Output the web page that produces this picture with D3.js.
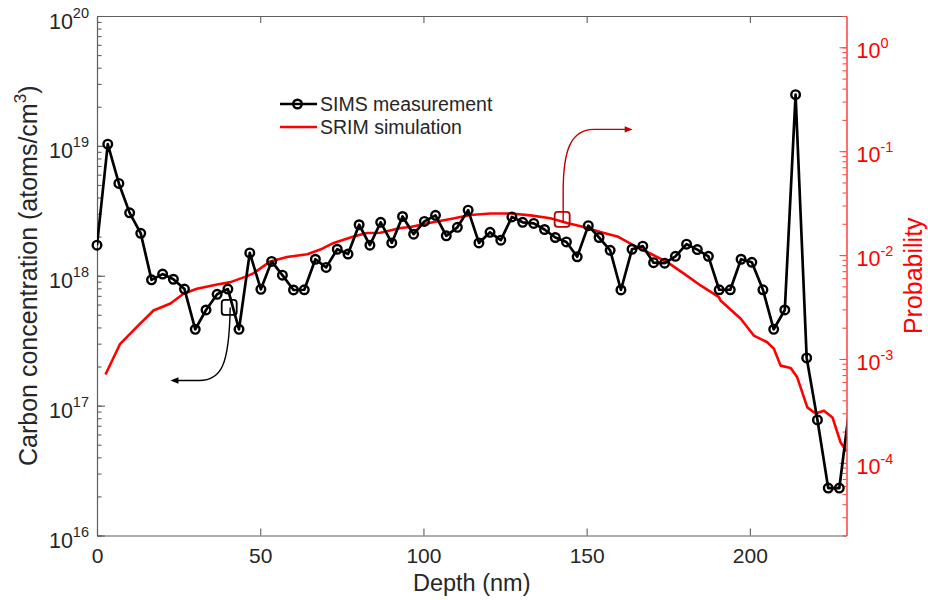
<!DOCTYPE html>
<html>
<head>
<meta charset="utf-8">
<script src="https://cdn.jsdelivr.net/npm/d3@7/dist/d3.min.js"></script>
<style>
  body { margin: 0; background: #fff; }
  svg { display: block; font-family: "Liberation Sans", Arial, Helvetica, sans-serif; }
</style>
</head>
<body>
<svg id="chart" width="928" height="600"></svg>
<script>
// ── data ───────────────────────────────────────────────────
const simsDepth = [0, 3.3, 6.7, 10.0, 13.4, 16.7, 20.1, 23.4, 26.8, 30.1,
  33.4, 36.8, 40.1, 43.5, 46.8, 50.2, 53.5, 56.8, 60.2, 63.5,
  66.9, 70.2, 73.6, 76.9, 80.3, 83.6, 86.9, 90.3, 93.6, 97.0,
  100.3, 103.7, 107.0, 110.4, 113.7, 117.0, 120.4, 123.7, 127.1, 130.4,
  133.8, 137.1, 140.4, 143.8, 147.1, 150.5, 153.8, 157.2, 160.5, 163.9,
  167.2, 170.5, 173.9, 177.2, 180.6, 183.9, 187.3, 190.6, 194.0, 197.3,
  200.6, 204.0, 207.3, 210.7, 214.0, 217.4, 220.7, 224.0, 227.4, 230.7];
const simsConc = [1.72e18, 1.03e19, 5.14e18, 3.05e18, 2.12e18, 9.3e17, 1.03e18, 9.4e17, 7.9e17, 3.87e17,
  5.45e17, 7.2e17, 7.9e17, 3.87e17, 1.5e18, 7.86e17, 1.29e18, 1.01e18, 7.77e17, 7.8e17,
  1.34e18, 1.16e18, 1.6e18, 1.47e18, 2.47e18, 1.72e18, 2.58e18, 1.79e18, 2.86e18, 2.09e18,
  2.62e18, 2.92e18, 2.03e18, 2.36e18, 3.2e18, 1.79e18, 2.16e18, 1.88e18, 2.84e18, 2.58e18,
  2.53e18, 2.27e18, 1.97e18, 1.82e18, 1.4e18, 2.43e18, 1.97e18, 1.57e18, 7.77e17, 1.6e18,
  1.69e18, 1.26e18, 1.25e18, 1.41e18, 1.75e18, 1.59e18, 1.41e18, 7.8e17, 7.8e17, 1.34e18,
  1.27e18, 7.8e17, 3.87e17, 5.45e17, 2.48e19, 2.33e17, 7.76e16, 2.32e16, 2.32e16, 1.05e17];

const srimDepth = [2.6, 7.1, 12.3, 17.3, 22.5, 26.5, 30.6, 36.8, 40.9, 46.0,
  48.0, 53.1, 58.2, 64.4, 68.4, 72.5, 78.6, 82.7, 86.8, 93.0,
  96.0, 102.1, 108.3, 114.4, 120.5, 126.7, 132.8, 138.9, 144.0, 149.1,
  154.2, 159.4, 164.4, 169.6, 174.7, 179.8, 184.9, 190.5, 191.0, 197.2,
  201.2, 205.3, 207.4, 209.4, 212.5, 214.5, 217.6, 220.1, 222.7, 225.3,
  227.8, 229.6];
const srimProb = [7.08e-4, 1.40e-3, 2.05e-3, 2.93e-3, 3.42e-3, 4.25e-3, 4.74e-3, 5.22e-3, 5.49e-3, 6.27e-3,
  6.70e-3, 8.69e-3, 9.57e-3, 1.02e-2, 1.13e-2, 1.31e-2, 1.51e-2, 1.63e-2, 1.64e-2, 1.82e-2,
  1.86e-2, 2.05e-2, 2.22e-2, 2.43e-2, 2.51e-2, 2.51e-2, 2.41e-2, 2.26e-2, 2.04e-2, 1.86e-2,
  1.67e-2, 1.51e-2, 1.24e-2, 1.03e-2, 8.56e-3, 6.62e-3, 5.10e-3, 3.94e-3, 3.66e-3, 2.44e-3,
  1.68e-3, 1.45e-3, 1.25e-3, 8.63e-4, 8.20e-4, 6.66e-4, 3.42e-4, 2.99e-4, 3.18e-4, 2.74e-4,
  1.57e-4, 1.29e-4];

const xTicks = [0, 50, 100, 150, 200];
const leftDecades = [16, 17, 18, 19, 20];
const rightDecades = [-4, -3, -2, -1, 0];
const legendLabels = ["SIMS measurement", "SRIM simulation"];

// ── layout ─────────────────────────────────────────────────
const W = 928, H = 600;
const L = 97, R = 846.5, T = 16, B = 535.5;
const AXIS = "#5e5e5e", TEXT = "#262626", RED = "#ff0000", RED_AXIS = "#ff4a4a", DARK_RED = "#c00000";

const svg = d3.select("#chart");

const x = d3.scaleLinear().domain([0, 229.6]).range([L, R]);
const yL = d3.scaleLog().domain([1e16, 1e20]).range([B, T]);
const yR = d3.scaleLog().domain([2e-5, 2]).range([B, T]);

const minorOf = (decades, scale) => {
  const [lo, hi] = scale.domain();
  const out = [];
  decades.forEach(k => d3.range(1, 10).forEach(m => out.push(m * Math.pow(10, k))));
  return out.filter(v => v >= lo * 0.999 && v <= hi * 1.001);
};

// ── axes ───────────────────────────────────────────────────
// bottom
const gx = svg.append("g").attr("transform", `translate(0,${B})`)
  .call(d3.axisBottom(x).tickValues(xTicks).tickSize(-7).tickSizeOuter(0).tickPadding(13));
gx.selectAll("text").attr("font-size", 21).attr("fill", TEXT).attr("font-family", null);
// top (box)
svg.append("g").attr("transform", `translate(0,${T})`)
  .call(d3.axisTop(x).tickValues(xTicks).tickSize(-7).tickSizeOuter(0).tickFormat(""));
// left, major + minor
svg.append("g").attr("transform", `translate(${L},0)`)
  .call(d3.axisLeft(yL).tickValues(minorOf([16, 17, 18, 19], yL)).tickSize(-4.5).tickSizeOuter(0).tickFormat(""));
svg.append("g").attr("transform", `translate(${L},0)`)
  .call(d3.axisLeft(yL).tickValues(leftDecades.map(k => Math.pow(10, k))).tickSize(-8).tickSizeOuter(0).tickFormat(""));
svg.selectAll("g").selectAll("path.domain, line").attr("stroke", AXIS).attr("stroke-width", 1.1);

// right (probability), red
const gr = svg.append("g").attr("transform", `translate(${R},0)`);
gr.call(d3.axisRight(yR).tickValues(minorOf([-5, -4, -3, -2, -1, 0], yR)).tickSize(-4).tickSizeOuter(0).tickFormat(""));
gr.append("g")
  .call(d3.axisRight(yR).tickValues(rightDecades.map(k => Math.pow(10, k))).tickSize(-7).tickSizeOuter(0).tickFormat(""));
gr.selectAll("path.domain, line").attr("stroke", RED_AXIS).attr("stroke-width", 1.1);

// power-of-ten tick labels
svg.append("g").selectAll("text").data(leftDecades).join("text")
  .attr("x", L - 8).attr("y", k => yL(Math.pow(10, k)) + 12.5)
  .attr("text-anchor", "end").attr("fill", TEXT).attr("font-size", 21.5)
  .each(function (k) {
    const t = d3.select(this);
    t.append("tspan").text("10");
    t.append("tspan").attr("font-size", 14.5).attr("dy", -11).text(k);
  });
svg.append("g").selectAll("text").data(rightDecades).join("text")
  .attr("x", R + 10).attr("y", k => yR(Math.pow(10, k)) + 11)
  .attr("fill", RED).attr("font-size", 21.5)
  .each(function (k) {
    const t = d3.select(this);
    t.append("tspan").text("10");
    t.append("tspan").attr("font-size", 14.5).attr("dy", -10).text(k);
  });

// axis titles
svg.append("text").attr("x", (L + R) / 2).attr("y", 591)
  .attr("text-anchor", "middle").attr("font-size", 23.5).attr("fill", TEXT).text("Depth (nm)");
const yTitle = svg.append("text")
  .attr("transform", `translate(36.5,${(T + B) / 2}) rotate(-90)`)
  .attr("text-anchor", "middle").attr("font-size", 25).attr("fill", TEXT);
yTitle.append("tspan").text("Carbon concentration (atoms/cm");
yTitle.append("tspan").attr("font-size", 17).attr("dy", -11).text("3");
yTitle.append("tspan").attr("dy", 11).text(")");
svg.append("text")
  .attr("transform", `translate(922,${(T + B) / 2}) rotate(-90)`)
  .attr("text-anchor", "middle").attr("font-size", 25).attr("fill", RED).text("Probability");

// ── series ─────────────────────────────────────────────────
svg.append("clipPath").attr("id", "plot-clip")
  .append("rect").attr("x", L).attr("y", T).attr("width", R - L).attr("height", B - T);

const sims = simsDepth.map((d, i) => ({ d, v: simsConc[i] }));
const srim = srimDepth.map((d, i) => ({ d, v: srimProb[i] }));

svg.append("path").datum(srim)
  .attr("clip-path", "url(#plot-clip)")
  .attr("d", d3.line().x(p => x(p.d)).y(p => yR(p.v)))
  .attr("fill", "none").attr("stroke", RED).attr("stroke-width", 2.6).attr("stroke-linejoin", "round");

svg.append("path").datum(sims)
  .attr("clip-path", "url(#plot-clip)")
  .attr("d", d3.line().x(p => x(p.d)).y(p => yL(p.v)))
  .attr("fill", "none").attr("stroke", "#000").attr("stroke-width", 2.7).attr("stroke-linejoin", "round");

svg.append("g").selectAll("circle").data(sims.filter(p => p.d <= x.domain()[1])).join("circle")
  .attr("cx", p => x(p.d)).attr("cy", p => yL(p.v)).attr("r", 4.3)
  .attr("fill", "none").attr("stroke", "#000").attr("stroke-width", 2.4);

// ── legend ─────────────────────────────────────────────────
const lg = svg.append("g").attr("transform", "translate(280,104)");
lg.append("line").attr("x1", 0).attr("x2", 37).attr("y1", 0).attr("y2", 0).attr("stroke", "#000").attr("stroke-width", 2.7);
lg.append("circle").attr("cx", 17.5).attr("cy", 0).attr("r", 4.3).attr("fill", "none").attr("stroke", "#000").attr("stroke-width", 2.4);
lg.append("line").attr("x1", 0).attr("x2", 37).attr("y1", 23).attr("y2", 23).attr("stroke", RED).attr("stroke-width", 2.6);
lg.selectAll("text").data(legendLabels).join("text")
  .attr("x", 40).attr("y", (d, i) => i * 23).attr("dy", "0.35em")
  .attr("font-size", 19.5).attr("fill", TEXT).text(d => d);

// ── annotations: which curve belongs to which axis ─────────
function pointer(sq, tip, scale, color, dir) {
  const sx = x(sq.d), sy = scale(sq.v), tx = x(tip.d), ty = scale(tip.v);
  const g = svg.append("g");
  g.append("rect").attr("x", sx - 7.5).attr("y", sy - 7.5).attr("width", 15).attr("height", 15).attr("rx", 3)
    .attr("fill", "none").attr("stroke", color).attr("stroke-width", 1.8);
  let d;
  if (dir < 0) {
    d = `M${sx + 1},${sy} C${sx},${ty - 15} ${sx - 8},${ty} ${sx - 30},${ty} L${tx + 6},${ty}`;
  } else {
    d = `M${sx + 1},${sy + 3} L${sx + 1},${sy - 28} C${sx + 1},${ty + 22} ${sx + 8},${ty} ${sx + 32},${ty} L${tx - 6},${ty}`;
  }
  g.append("path").attr("d", d).attr("fill", "none").attr("stroke", color).attr("stroke-width", 1.4);
  g.append("path")
    .attr("d", dir < 0
      ? `M${tx},${ty} L${tx + 8},${ty - 3.2} L${tx + 8},${ty + 3.2} Z`
      : `M${tx},${ty} L${tx - 8},${ty - 3.2} L${tx - 8},${ty + 3.2} Z`)
    .attr("fill", color);
}
pointer({ d: 40.5, v: 5.7e17 }, { d: 22.5, v: 1.56e17 }, yL, "#000", -1);
pointer({ d: 142.5, v: 2.21e-2 }, { d: 164.1, v: 0.162 }, yR, DARK_RED, 1);
</script>
</body>
</html>
